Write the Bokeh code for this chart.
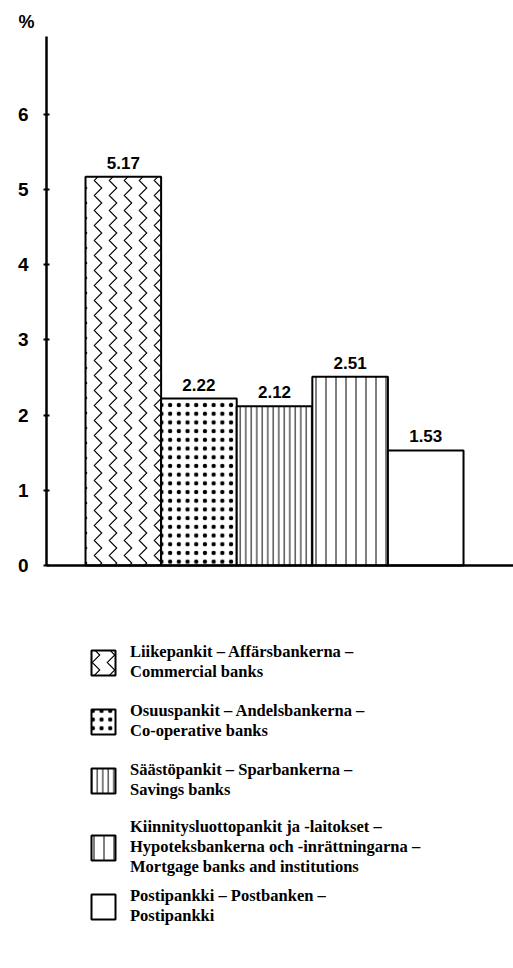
from bokeh.plotting import figure
from bokeh.models import (ColumnDataSource, Range1d, FixedTicker, Span,
                          Legend, LegendItem)
from bokeh.embed import file_html
from bokeh.resources import INLINE
from bokeh.core.properties import value

# ---- data ----
categories = [
    "Liikepankit \u2013 Affärsbankerna \u2013\nCommercial banks",
    "Osuuspankit \u2013 Andelsbankerna \u2013\nCo-operative banks",
    "Säästöpankit \u2013 Sparbankerna \u2013\nSavings banks",
    "Kiinnitysluottopankit ja -laitokset \u2013\nHypoteksbankerna och -inrättningarna \u2013\nMortgage banks and institutions",
    "Postipankki \u2013 Postbanken \u2013\nPostipankki",
]
values = [5.17, 2.22, 2.12, 2.51, 1.53]
value_labels = ["5.17", "2.22", "2.12", "2.51", "1.53"]
y_ticks = [0, 1, 2, 3, 4, 5, 6]
patterns = ["vertical_wave", "dot", "vertical_line", "vertical_line", " "]
pattern_scales = [15, 8.7, 5.5, 10, 10]
pattern_weights = [1.1, 3.0, 1.0, 1.0, 1.0]

xs = list(range(1, len(values) + 1))
src = ColumnDataSource(dict(x=xs, top=values, lab=value_labels,
                            hp=patterns, hs=pattern_scales, hw=pattern_weights))

W, H = 513, 968
p = figure(width=W, height=H, output_backend="svg", toolbar_location=None,
           x_range=Range1d(-0.016, 6.161), y_range=Range1d(-5.361, 7.037),
           min_border_left=46, min_border_right=0, min_border_top=36,
           min_border_bottom=0, background_fill_color="white",
           border_fill_color="white")
p.outline_line_color = None
p.grid.visible = False
p.xaxis.visible = False

p.title.text = "%"
p.title.align = "left"
p.title.offset = -28
p.title.standoff = 10
p.title.text_font = "Liberation Sans"
p.title.text_font_style = "bold"
p.title.text_font_size = "18px"
p.title.text_color = "black"

ya = p.yaxis[0]
ya.ticker = FixedTicker(ticks=y_ticks)
ya.bounds = (0, 7.037)
ya.axis_line_width = 2.5
ya.axis_line_color = "black"
ya.major_tick_in = 3
ya.major_tick_out = 3
ya.major_tick_line_width = 2
ya.minor_tick_line_color = None
ya.major_label_standoff = 15
ya.major_label_text_font = "Liberation Sans"
ya.major_label_text_font_style = "bold"
ya.major_label_text_font_size = "19px"
ya.major_label_text_color = "black"

p.add_layout(Span(location=0, dimension="width", line_color="black", line_width=2.5))

bars = p.vbar(x="x", top="top", bottom=0, width=1, source=src,
              fill_color="white", line_color="black", line_width=2,
              hatch_pattern="hp", hatch_scale="hs", hatch_weight="hw",
              hatch_color="black")

p.text(x="x", y="top", text="lab", source=src, y_offset=-8,
       text_align="center", text_baseline="bottom",
       text_font=value("Liberation Sans"), text_font_style="bold",
       text_font_size="17px", text_color="black")

legend_style = dict(orientation="vertical", glyph_width=30, glyph_height=31,
                    label_standoff=12, padding=0, margin=0,
                    border_line_color=None, background_fill_alpha=0,
                    label_text_font="Liberation Serif", label_text_font_style="bold",
                    label_text_font_size="16.5px", label_text_line_height=1.0,
                    label_text_color="black")

items_a = [LegendItem(label=categories[i], renderers=[bars], index=i) for i in (0, 1, 2)]
items_b = [LegendItem(label=categories[i], renderers=[bars], index=i) for i in (3, 4)]
legend_a = Legend(items=items_a, location=(42, 168), spacing=19, **legend_style)
legend_b = Legend(items=items_b, location=(42, 42), spacing=9, **legend_style)
p.add_layout(legend_a, "center")
p.add_layout(legend_b, "center")

open("out.html", "w").write(file_html(p, INLINE))
